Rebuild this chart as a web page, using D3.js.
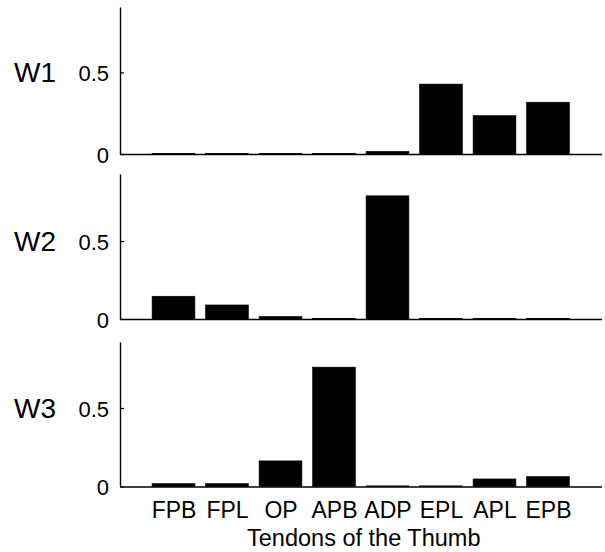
<!DOCTYPE html>
<html>
<head>
<meta charset="utf-8">
<script src="https://cdn.jsdelivr.net/npm/d3@7"></script>
<style>
  body { margin: 0; background: #fff; }
  svg { display: block; font-family: 'Liberation Sans', Arial, sans-serif; }
</style>
</head>
<body>
<div id="chart"></div>
<script>
'use strict';

const categories = ['FPB', 'FPL', 'OP', 'APB', 'ADP', 'EPL', 'APL', 'EPB'];
const w1 = [0.004, 0.004, 0.004, 0.004, 0.016, 0.428, 0.235, 0.317];
const w2 = [0.146, 0.09, 0.016, 0.004, 0.79, 0.004, 0.004, 0.004];
const w3 = [0.018, 0.018, 0.163, 0.76, 0.004, 0.004, 0.048, 0.063];
const panelNames = ['W1', 'W2', 'W3'];
const yTicks = [0, 0.5];
const xTitle = 'Tendons of the Thumb';

const width = 605;
const height = 552;

// panel boxes (top of y axis, zero line, y max)
const panels = [
  { name: panelNames[0], values: w1, top: 7, bottom: 154, ymax: 0.9 },
  { name: panelNames[1], values: w2, top: 174, bottom: 319, ymax: 0.93 },
  { name: panelNames[2], values: w3, top: 342, bottom: 486.5, ymax: 0.92 },
];

const svg = d3
  .select('#chart')
  .append('svg')
  .attr('width', width)
  .attr('height', height);

const x = d3.scaleLinear().domain([0, categories.length + 1]).range([120, 601.5]);
const barW = x(0.8) - x(0);

panels.forEach((p, k) => {
  const y = d3.scaleLinear().domain([0, p.ymax]).range([p.bottom, p.top]);
  const g = svg.append('g');

  g.selectAll('rect')
    .data(p.values)
    .enter()
    .append('rect')
    .attr('x', (d, i) => x(i + 1) - barW / 2)
    .attr('width', barW)
    .attr('y', (d) => y(d))
    .attr('height', (d) => y(0) - y(d))
    .attr('fill', '#000')
    .attr('stroke', '#000')
    .attr('stroke-width', 0.6);

  // x axis line (labels only on the last panel)
  const last = k === panels.length - 1;
  const xAxis = d3
    .axisBottom(x)
    .tickValues(last ? d3.range(1, categories.length + 1) : [])
    .tickFormat((d) => categories[d - 1])
    .tickSize(0)
    .tickSizeOuter(0)
    .tickPadding(15);
  const gx = g
    .append('g')
    .attr('transform', 'translate(0,' + y(0) + ')')
    .call(xAxis);
  gx.select('.domain').attr('stroke-width', 1.4);
  gx.selectAll('text').attr('font-size', 23).attr('font-family', null).attr('fill', '#000');

  const yAxis = d3
    .axisLeft(y)
    .tickValues(yTicks)
    .tickFormat((d) => (d === 0 ? '0' : d3.format('.1f')(d)))
    .tickSize(-4)
    .tickSizeOuter(0)
    .tickPadding(11);
  const gy = g
    .append('g')
    .attr('transform', 'translate(' + x(0) + ',0)')
    .call(yAxis);
  gy.select('.domain').attr('stroke-width', 1.4);
  gy.selectAll('line').attr('stroke-width', 1.2);
  gy.selectAll('text')
    .attr('font-size', 22)
    .attr('font-family', null)
    .attr('fill', '#000')
    .attr('dy', '0.38em');

  g.append('text')
    .attr('x', 14)
    .attr('y', y(0.5))
    .attr('dy', '0.36em')
    .attr('font-size', 28)
    .text(p.name);
});

svg
  .append('text')
  .attr('x', x((categories.length + 1) / 2) + 3)
  .attr('y', 546)
  .attr('text-anchor', 'middle')
  .attr('font-size', 23.5)
  .text(xTitle);
</script>
</body>
</html>
